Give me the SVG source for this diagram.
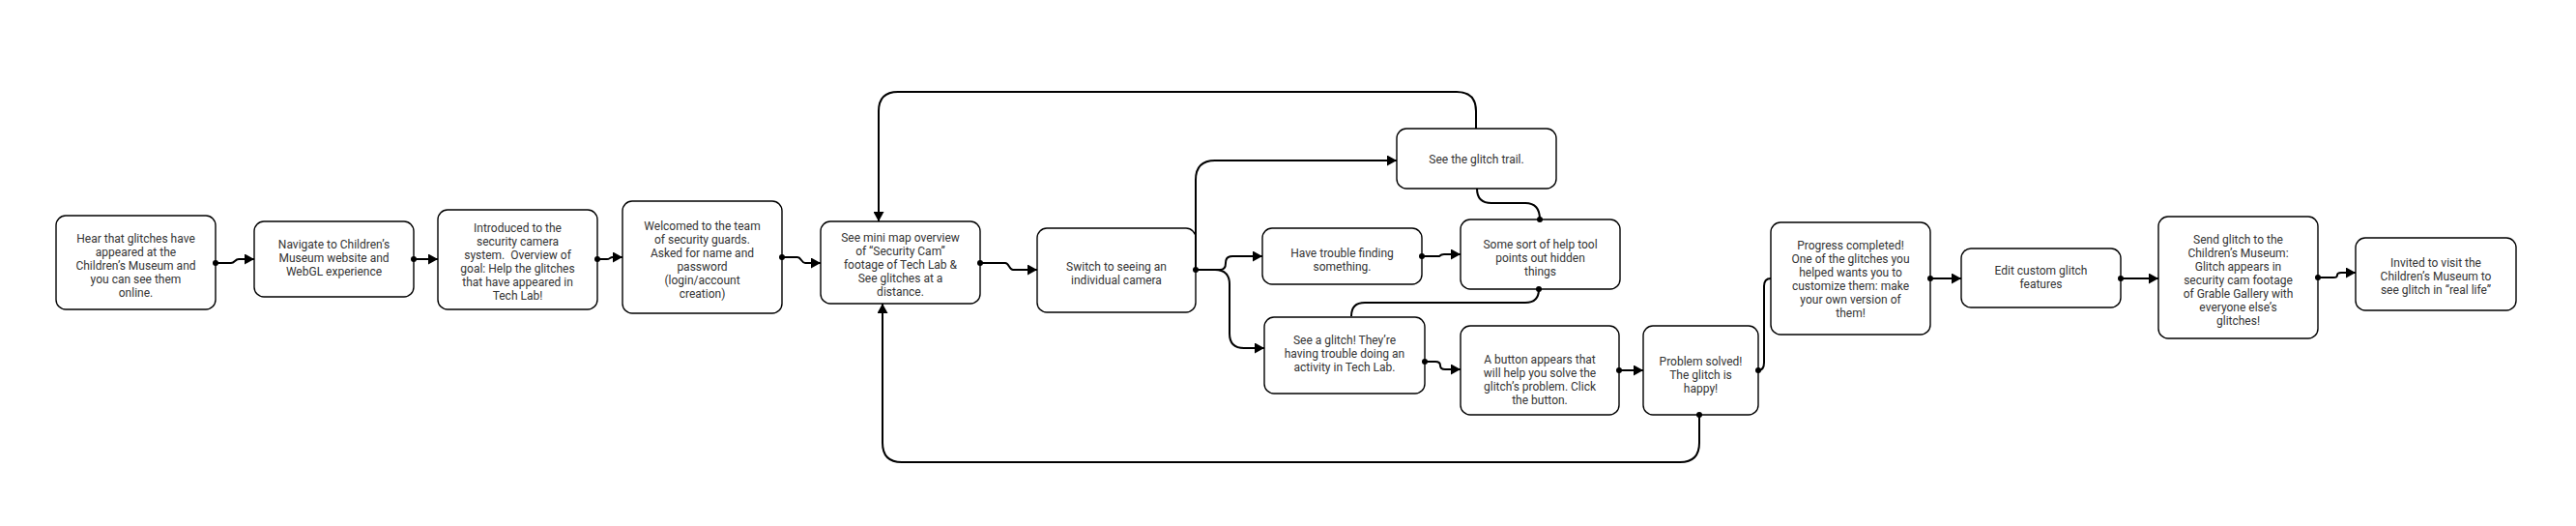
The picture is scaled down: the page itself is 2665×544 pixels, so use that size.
<svg xmlns="http://www.w3.org/2000/svg" width="2665" height="544" viewBox="0 0 2665 544">
<style>
.n{fill:#fff;stroke:#000;stroke-width:1.4}
.t{font-family:Roboto,"Liberation Sans",sans-serif;font-size:12px;fill:#333;text-anchor:middle;white-space:pre}
.e{fill:none;stroke:#000;stroke-width:2}
.a{marker-end:url(#arr)}
.dt{fill:#000;stroke:none}
</style>
<defs>
<marker id="arr" markerUnits="userSpaceOnUse" markerWidth="11" markerHeight="11" refX="10" refY="5.5" orient="auto"><path d="M0,0 L10,5.5 L0,11 z" fill="#000"/></marker>
</defs>
<rect width="2665" height="544" fill="#fff"/>
<g id="n1"><rect class="n" x="58" y="223" width="165" height="97" rx="10"/><text class="t"><tspan x="140.5" y="251">Hear that glitches have</tspan><tspan x="140.5" y="265">appeared at the</tspan><tspan x="140.5" y="279">Children’s Museum and</tspan><tspan x="140.5" y="293">you can see them</tspan><tspan x="140.5" y="307">online.</tspan></text></g>
<g id="n2"><rect class="n" x="263" y="229" width="165" height="78" rx="10"/><text class="t"><tspan x="345.5" y="257">Navigate to Children’s</tspan><tspan x="345.5" y="271">Museum website and</tspan><tspan x="345.5" y="285">WebGL experience</tspan></text></g>
<g id="n3"><rect class="n" x="453" y="217" width="165" height="103" rx="10"/><text class="t"><tspan x="535.5" y="240">Introduced to the</tspan><tspan x="535.5" y="254">security camera</tspan><tspan x="535.5" y="268">system.  Overview of</tspan><tspan x="535.5" y="282">goal: Help the glitches</tspan><tspan x="535.5" y="296">that have appeared in</tspan><tspan x="535.5" y="310">Tech Lab!</tspan></text></g>
<g id="n4"><rect class="n" x="644" y="208" width="165" height="116" rx="10"/><text class="t"><tspan x="726.5" y="238">Welcomed to the team</tspan><tspan x="726.5" y="252">of security guards.</tspan><tspan x="726.5" y="266">Asked for name and</tspan><tspan x="726.5" y="280">password</tspan><tspan x="726.5" y="294">(login/account</tspan><tspan x="726.5" y="308">creation)</tspan></text></g>
<g id="n5"><rect class="n" x="849" y="229" width="165" height="85" rx="10"/><text class="t"><tspan x="931.5" y="250">See mini map overview</tspan><tspan x="931.5" y="264">of “Security Cam”</tspan><tspan x="931.5" y="278">footage of Tech Lab &amp;</tspan><tspan x="931.5" y="292">See glitches at a</tspan><tspan x="931.5" y="306">distance.</tspan></text></g>
<g id="n6"><rect class="n" x="1073" y="236" width="164" height="87" rx="10"/><text class="t"><tspan x="1155" y="280">Switch to seeing an</tspan><tspan x="1155" y="294">individual camera</tspan></text></g>
<g id="n7"><rect class="n" x="1445" y="133" width="165" height="62" rx="10"/><text class="t"><tspan x="1527.5" y="169">See the glitch trail.</tspan></text></g>
<g id="n8"><rect class="n" x="1306" y="236" width="165" height="58" rx="10"/><text class="t"><tspan x="1388.5" y="266">Have trouble finding</tspan><tspan x="1388.5" y="280">something.</tspan></text></g>
<g id="n9"><rect class="n" x="1511" y="227" width="165" height="72" rx="10"/><text class="t"><tspan x="1593.5" y="257">Some sort of help tool</tspan><tspan x="1593.5" y="271">points out hidden</tspan><tspan x="1593.5" y="285">things</tspan></text></g>
<g id="n10"><rect class="n" x="1308" y="328" width="166" height="79" rx="10"/><text class="t"><tspan x="1391" y="356">See a glitch! They’re</tspan><tspan x="1391" y="370">having trouble doing an</tspan><tspan x="1391" y="384">activity in Tech Lab.</tspan></text></g>
<g id="n11"><rect class="n" x="1511" y="337" width="164" height="92" rx="10"/><text class="t"><tspan x="1593" y="376">A button appears that</tspan><tspan x="1593" y="390">will help you solve the</tspan><tspan x="1593" y="404">glitch’s problem. Click</tspan><tspan x="1593" y="418">the button.</tspan></text></g>
<g id="n12"><rect class="n" x="1700" y="337" width="119" height="92" rx="10"/><text class="t"><tspan x="1759.5" y="378">Problem solved!</tspan><tspan x="1759.5" y="392">The glitch is</tspan><tspan x="1759.5" y="406">happy!</tspan></text></g>
<g id="n13"><rect class="n" x="1832" y="230" width="165" height="116" rx="10"/><text class="t"><tspan x="1914.5" y="258">Progress completed!</tspan><tspan x="1914.5" y="272">One of the glitches you</tspan><tspan x="1914.5" y="286">helped wants you to</tspan><tspan x="1914.5" y="300">customize them: make</tspan><tspan x="1914.5" y="314">your own version of</tspan><tspan x="1914.5" y="328">them!</tspan></text></g>
<g id="n14"><rect class="n" x="2029" y="257" width="165" height="61" rx="10"/><text class="t"><tspan x="2111.5" y="284">Edit custom glitch</tspan><tspan x="2111.5" y="298">features</tspan></text></g>
<g id="n15"><rect class="n" x="2233" y="224" width="165" height="126" rx="10"/><text class="t"><tspan x="2315.5" y="252">Send glitch to the</tspan><tspan x="2315.5" y="266">Children’s Museum:</tspan><tspan x="2315.5" y="280">Glitch appears in</tspan><tspan x="2315.5" y="294">security cam footage</tspan><tspan x="2315.5" y="308">of Grable Gallery with</tspan><tspan x="2315.5" y="322">everyone else’s</tspan><tspan x="2315.5" y="336">glitches!</tspan></text></g>
<g id="n16"><rect class="n" x="2437" y="246" width="166" height="75" rx="10"/><text class="t"><tspan x="2520" y="276">Invited to visit the</tspan><tspan x="2520" y="290">Children’s Museum to</tspan><tspan x="2520" y="304">see glitch in “real life”</tspan></text></g>
<g id="connectors">
<path class="e a" d="M223,272 H239 C243,272 243,268 247,268 H263"/>
<path class="e a" d="M428,268 H453"/>
<path class="e a" d="M618,268 H628 C631,268 631,266 634,266 H644"/>
<path class="e a" d="M809,266 H825 C829,266 829,272 833,272 H849"/>
<path class="e a" d="M1014,272 H1040 C1044,272 1044,279 1048,279 H1073"/>
<path class="e a" d="M1237,279 V186 Q1237,166 1257,166 H1445"/>
<path class="e a" d="M1237,279 H1262 Q1268,279 1268,272 Q1268,265 1275,265 H1306"/>
<path class="e a" d="M1237,279 H1257 Q1272,279 1272,294 V345 Q1272,360 1287,360 H1308"/>
<path class="e a" d="M1471,265 H1489 Q1491,263 1494,263 H1511"/>
<path class="e" d="M1593,227 Q1593,210 1578,210 H1543 Q1528,210 1528,195"/>
<path class="e" d="M1592,299 Q1592,313 1578,313 H1412 Q1398,313 1398,327"/>
<path class="e a" d="M1474,374 H1485 Q1490,374 1490,378 Q1490,382 1495,382 H1511"/>
<path class="e a" d="M1675,383 H1700"/>
<path class="e" d="M1819,383 Q1825,383 1825,375 V296 Q1825,288 1832,288"/>
<path class="e a" d="M1997,288 H2029"/>
<path class="e a" d="M2194,288 H2233"/>
<path class="e a" d="M2398,287 H2414 Q2418,287 2418,284.5 Q2418,282 2422,282 H2437"/>
<path class="e a" d="M1527,133 V115 Q1527,95 1507,95 H929 Q909,95 909,115 V229"/>
<path class="e a" d="M1758,429 V458 Q1758,478 1738,478 H933 Q913,478 913,458 V314"/>
<circle class="dt" cx="223" cy="272" r="3"/>
<circle class="dt" cx="428" cy="268" r="3"/>
<circle class="dt" cx="618" cy="268" r="3"/>
<circle class="dt" cx="809" cy="266" r="3"/>
<circle class="dt" cx="1014" cy="272" r="3"/>
<circle class="dt" cx="1237" cy="279" r="3"/>
<circle class="dt" cx="1471" cy="265" r="3"/>
<circle class="dt" cx="1593" cy="227" r="3"/>
<circle class="dt" cx="1592" cy="299" r="3"/>
<circle class="dt" cx="1474" cy="374" r="3"/>
<circle class="dt" cx="1675" cy="383" r="3"/>
<circle class="dt" cx="1819" cy="383" r="3"/>
<circle class="dt" cx="1997" cy="288" r="3"/>
<circle class="dt" cx="2194" cy="288" r="3"/>
<circle class="dt" cx="2398" cy="287" r="3"/>
<circle class="dt" cx="1758" cy="429" r="3"/>
</g>
</svg>
